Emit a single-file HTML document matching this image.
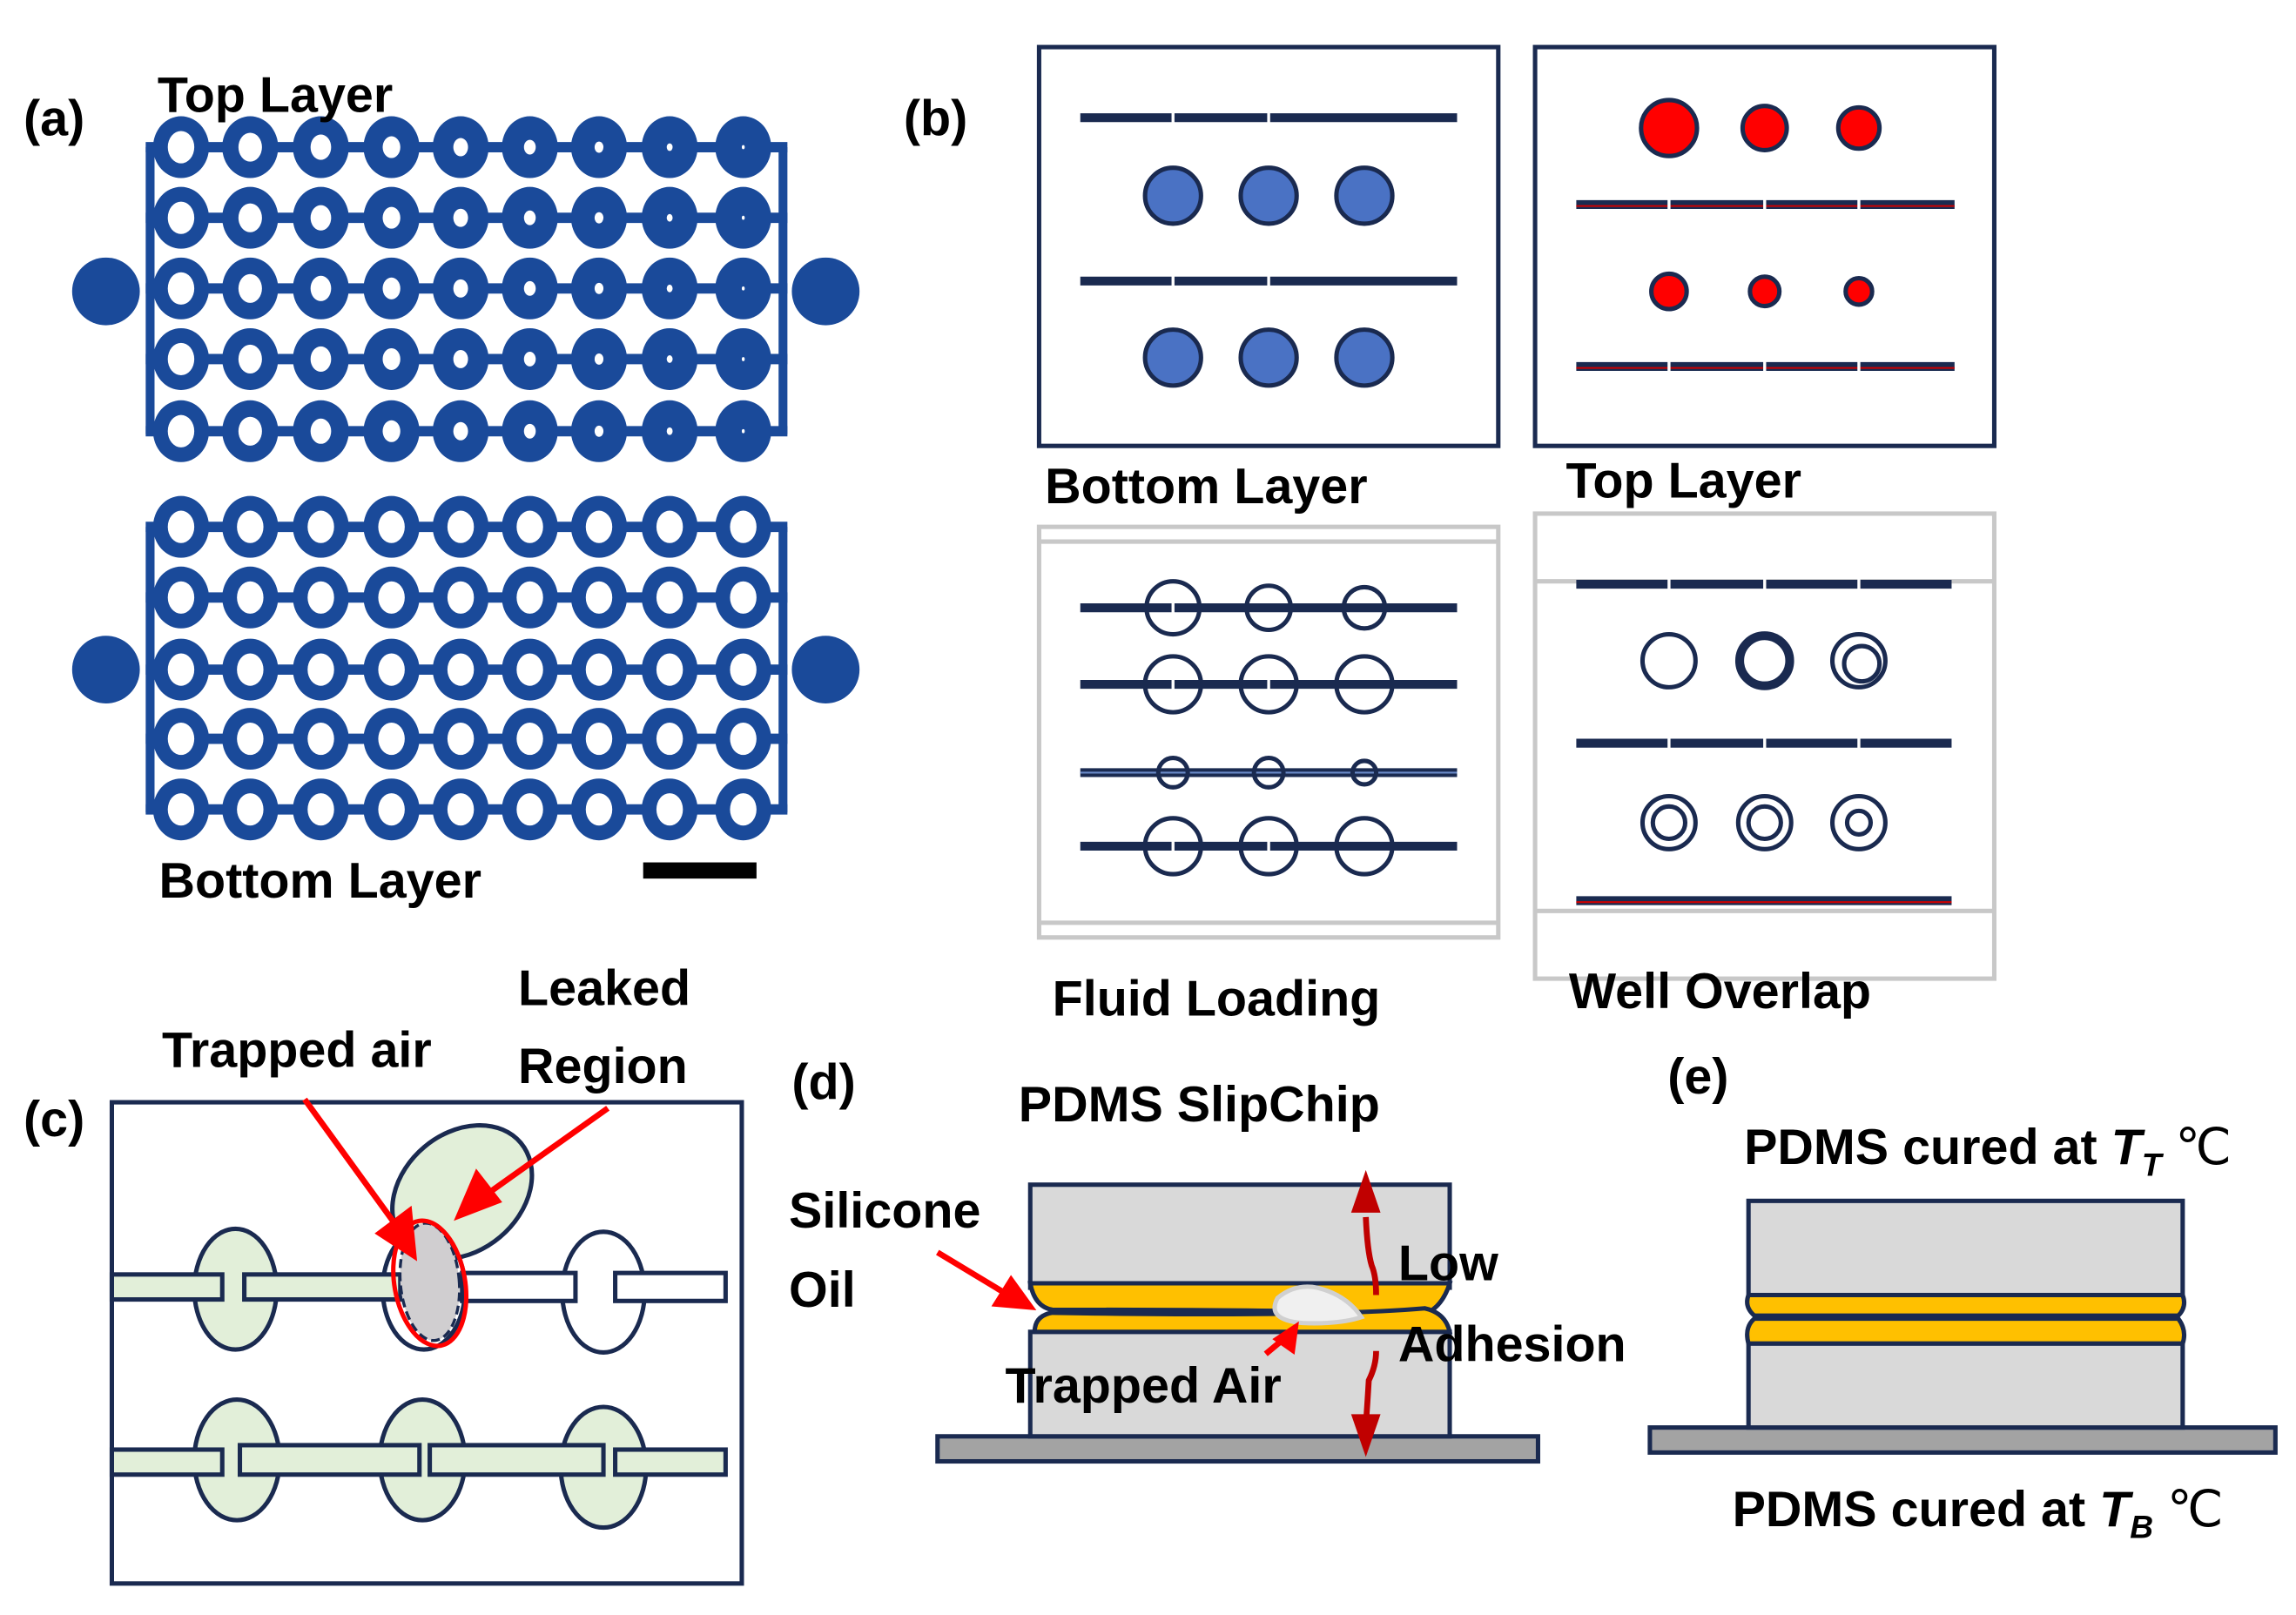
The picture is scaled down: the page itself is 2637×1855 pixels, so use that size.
<!DOCTYPE html>
<html><head><meta charset="utf-8"><style>
html,body{margin:0;padding:0;background:#fff}
svg{display:block}
text{font-family:"Liberation Sans",sans-serif;font-weight:bold;fill:#000}
</style></head><body>
<svg id="s" width="2637" height="1855" viewBox="0 0 1560 1097.4" preserveAspectRatio="none" xmlns="http://www.w3.org/2000/svg">
<rect width="1560" height="1098" fill="#fff"/>
<g id="ga"></g>
<text x="16" y="92" font-size="34">(a)</text>
<text x="107" y="76" font-size="34">Top Layer</text>
<text x="108" y="610" font-size="34">Bottom Layer</text>
<rect x="437" y="586" width="77" height="11" fill="#000"/>

<!-- (b) -->
<text x="614" y="92" font-size="34">(b)</text>
<g stroke="#1a2a50" fill="none" stroke-width="3">
<rect x="706" y="32" width="312" height="271"/>
<rect x="1043" y="32" width="312" height="271"/>
</g>
<g stroke="#1a2a50" stroke-width="6">
<line x1="734" y1="80" x2="990" y2="80"/><line x1="734" y1="191" x2="990" y2="191"/>
<line x1="1071" y1="139" x2="1328" y2="139"/><line x1="1071" y1="249" x2="1328" y2="249"/>
</g>
<g stroke="#c00" stroke-width="1.2"><line x1="1071" y1="140" x2="1328" y2="140"/><line x1="1071" y1="250" x2="1328" y2="250"/></g>
<g stroke="#fff" stroke-width="2"><line x1="797" y1="76" x2="797" y2="84"/><line x1="862" y1="76" x2="862" y2="84"/><line x1="797" y1="187" x2="797" y2="195"/><line x1="862" y1="187" x2="862" y2="195"/>
<line x1="1134" y1="135" x2="1134" y2="143"/><line x1="1199" y1="135" x2="1199" y2="143"/><line x1="1263" y1="135" x2="1263" y2="143"/><line x1="1134" y1="245" x2="1134" y2="253"/><line x1="1199" y1="245" x2="1199" y2="253"/><line x1="1263" y1="245" x2="1263" y2="253"/></g>
<g fill="#4a72c4" stroke="#1a2a50" stroke-width="3">
<circle cx="797" cy="133" r="19"/><circle cx="862" cy="133" r="19"/><circle cx="927" cy="133" r="19"/>
<circle cx="797" cy="243" r="19"/><circle cx="862" cy="243" r="19"/><circle cx="927" cy="243" r="19"/>
</g>
<g fill="#f00" stroke="#1a2a50" stroke-width="3">
<circle cx="1134" cy="87" r="19"/><circle cx="1199" cy="87" r="15"/><circle cx="1263" cy="87" r="14"/>
<circle cx="1134" cy="198" r="12"/><circle cx="1199" cy="198" r="10"/><circle cx="1263" cy="198" r="9"/>
</g>
<text x="710" y="342" font-size="34">Bottom Layer</text>
<text x="1064" y="338" font-size="34">Top Layer</text>
<g stroke="#c8c8c8" fill="none" stroke-width="3">
<rect x="706" y="358" width="312" height="279"/><line x1="706" y1="368" x2="1018" y2="368"/><line x1="706" y1="627" x2="1018" y2="627"/>
<rect x="1043" y="349" width="312" height="316"/><line x1="1043" y1="395" x2="1355" y2="395"/><line x1="1043" y1="619" x2="1355" y2="619"/>
</g>
<g stroke="#1a2a50" stroke-width="6">
<line x1="734" y1="413" x2="990" y2="413"/><line x1="734" y1="465" x2="990" y2="465"/><line x1="734" y1="525" x2="990" y2="525"/><line x1="734" y1="575" x2="990" y2="575"/>
<line x1="1071" y1="397" x2="1326" y2="397"/><line x1="1071" y1="505" x2="1326" y2="505"/><line x1="1071" y1="612" x2="1326" y2="612"/>
</g>
<g stroke="#c00" stroke-width="1.2"><line x1="1071" y1="613" x2="1326" y2="613"/></g>
<g stroke="#6a8ac8" stroke-width="1.2"><line x1="734" y1="525" x2="990" y2="525"/></g>
<g fill="none" stroke="#1a2a50" stroke-width="3">
<circle cx="797" cy="413" r="18"/><circle cx="862" cy="413" r="15"/><circle cx="927" cy="413" r="14"/>
<circle cx="797" cy="465" r="19"/><circle cx="862" cy="465" r="19"/><circle cx="927" cy="465" r="19"/>
<circle cx="797" cy="525" r="10"/><circle cx="862" cy="525" r="10"/><circle cx="927" cy="525" r="8"/>
<circle cx="797" cy="575" r="19"/><circle cx="862" cy="575" r="19"/><circle cx="927" cy="575" r="19"/>
<circle cx="1134" cy="449" r="18"/><circle cx="1199" cy="449" r="17" stroke-width="6"/><circle cx="1263" cy="449" r="18"/><circle cx="1265" cy="451" r="12"/>
<circle cx="1134" cy="559" r="18"/><circle cx="1134" cy="559" r="11"/><circle cx="1199" cy="559" r="18"/><circle cx="1199" cy="559" r="11"/><circle cx="1263" cy="559" r="18"/><circle cx="1263" cy="559" r="8"/>
</g>
<g stroke="#fff" stroke-width="2"><line x1="797" y1="408" x2="797" y2="418"/><line x1="797" y1="460" x2="797" y2="470"/><line x1="862" y1="460" x2="862" y2="470"/><line x1="797" y1="570" x2="797" y2="580"/><line x1="862" y1="570" x2="862" y2="580"/><line x1="1134" y1="500" x2="1134" y2="510"/><line x1="1199" y1="500" x2="1199" y2="510"/><line x1="1263" y1="500" x2="1263" y2="510"/><line x1="1134" y1="392" x2="1134" y2="402"/><line x1="1199" y1="392" x2="1199" y2="402"/><line x1="1263" y1="392" x2="1263" y2="402"/></g>
<text x="715" y="690" font-size="34">Fluid Loading</text>
<text x="1066" y="685" font-size="34">Well Overlap</text>

<!-- (c) -->
<text x="16" y="772" font-size="34">(c)</text>
<text x="110" y="725" font-size="34">Trapped air</text>
<text x="352" y="683" font-size="34">Leaked</text>
<text x="352" y="736" font-size="34">Region</text>
<rect x="76" y="749" width="428" height="327" fill="none" stroke="#1a2a50" stroke-width="3"/>
<g fill="#e2efd9" stroke="#1a2a50" stroke-width="3">
<ellipse cx="314" cy="810" rx="52" ry="40" transform="rotate(-40 314 810)"/>
<ellipse cx="160" cy="876" rx="28" ry="41"/>
<ellipse cx="161" cy="992" rx="29" ry="41"/><ellipse cx="287" cy="992" rx="29" ry="41"/><ellipse cx="410" cy="997" rx="29" ry="41"/>
</g>
<g fill="none" stroke="#1a2a50" stroke-width="3">
<ellipse cx="288" cy="876" rx="28" ry="41"/><ellipse cx="410" cy="878" rx="28" ry="41"/>
</g>
<g fill="#e2efd9" stroke="#1a2a50" stroke-width="3">
<rect x="76" y="866" width="75" height="17"/><rect x="166" y="866" width="106" height="17"/>
<rect x="76" y="985" width="75" height="17"/><rect x="163" y="982" width="122" height="20"/><rect x="292" y="982" width="118" height="20"/><rect x="418" y="985" width="75" height="17"/>
</g>
<g fill="#fff" stroke="#1a2a50" stroke-width="3">
<rect x="314" y="865" width="77" height="19"/><rect x="418" y="865" width="75" height="19"/>
</g>
<ellipse cx="292" cy="871" rx="20" ry="40" transform="rotate(-5 292 871)" fill="#d0ced0" stroke="#1a2a50" stroke-width="2" stroke-dasharray="6 3"/>
<ellipse cx="292" cy="872" rx="24" ry="43" transform="rotate(-10 292 872)" fill="none" stroke="#f00" stroke-width="3"/>
<g stroke="#f00" stroke-width="4" fill="#f00">
<line x1="207" y1="747" x2="273" y2="838"/><polygon points="281,853 258,838 278,823"/>
<line x1="413" y1="753" x2="330" y2="812"/><polygon points="312,826 324,798 338,816"/>
</g>

<!-- (d) -->
<text x="538" y="747" font-size="34">(d)</text>
<text x="692" y="762" font-size="34">PDMS SlipChip</text>
<text x="536" y="834" font-size="34">Silicone</text>
<text x="536" y="888" font-size="34">Oil</text>
<rect x="637" y="976" width="408" height="17" fill="#a3a3a3" stroke="#1a2a50" stroke-width="3"/>
<rect x="700" y="805" width="285" height="70" fill="#d9d9d9" stroke="#1a2a50" stroke-width="3"/>
<rect x="700" y="905" width="285" height="71" fill="#d9d9d9" stroke="#1a2a50" stroke-width="3"/>
<path d="M700,872 L985,872 Q980,888 968,893 Q900,890 715,890 Q703,888 700,872 Z" fill="#ffc000" stroke="#1a2a50" stroke-width="3"/>
<path d="M703,905 L985,905 Q982,892 968,889 Q900,895 715,892 Q703,894 703,905 Z" fill="#ffc000" stroke="#1a2a50" stroke-width="3"/>
<path d="M868,882 Q880,872 895,875 Q915,880 925,895 Q910,900 885,899 Q860,897 868,882 Z" fill="#f0f0f0" stroke="#d0d0d0" stroke-width="3"/>
<g fill="none" stroke="#c00000" stroke-width="4"><path d="M928,827 Q929,850 932,860 Q935,867 935,880"/><path d="M935,918 Q935,928 930,938 Q929,955 928,968"/></g>
<g fill="#c00000"><polygon points="928,795 918,824 938,824"/><polygon points="928,990 918,961 938,961"/></g>
<g stroke="#f00" stroke-width="4" fill="#f00"><line x1="637" y1="851" x2="685" y2="880"/><polygon points="700,888 677,886 687,870"/>
<line x1="860" y1="920" x2="872" y2="910"/><polygon points="880,902 868,910 878,917"/></g>
<text x="950" y="870" font-size="34">Low</text>
<text x="950" y="925" font-size="34">Adhesion</text>
<text x="683" y="953" font-size="34">Trapped Air</text>

<!-- (e) -->
<text x="1133" y="743" font-size="34">(e)</text>
<text x="1185" y="791" font-size="34">PDMS cured at <tspan font-style="italic">T</tspan><tspan font-style="italic" font-size="22" dy="8">T</tspan><tspan dy="-8" font-weight="normal"> ℃</tspan></text>
<rect x="1121" y="970" width="425" height="17" fill="#a3a3a3" stroke="#1a2a50" stroke-width="3"/>
<rect x="1188" y="816" width="295" height="64" fill="#d9d9d9" stroke="#1a2a50" stroke-width="3"/>
<path d="M1188,880 L1483,880 Q1486,888 1480,894 L1192,894 Q1185,888 1188,880Z" fill="#ffc000" stroke="#1a2a50" stroke-width="3"/>
<path d="M1192,896 L1480,896 Q1486,904 1483,913 L1188,913 Q1185,902 1192,896Z" fill="#ffc000" stroke="#1a2a50" stroke-width="3"/>
<rect x="1188" y="913" width="295" height="57" fill="#d9d9d9" stroke="#1a2a50" stroke-width="3"/>
<text x="1177" y="1037" font-size="34">PDMS cured at <tspan font-style="italic">T</tspan><tspan font-style="italic" font-size="22" dy="8">B</tspan><tspan dy="-8" font-weight="normal"> ℃</tspan></text>
</svg>
<script>
(function(){
var NS="http://www.w3.org/2000/svg",g=document.getElementById("ga"),C="#1a4a9a";
function el(t,a){var e=document.createElementNS(NS,t);for(var k in a)e.setAttribute(k,a[k]);g.appendChild(e);return e;}
var xs=[123,170,218,266,313,360,407,455,505];
function grid(rows,shrink,by){
 el("line",{x1:102,y1:rows[0],x2:102,y2:rows[4]+2,stroke:C,"stroke-width":6});
 el("line",{x1:532,y1:rows[0],x2:532,y2:rows[4]+2,stroke:C,"stroke-width":6});
 rows.forEach(function(y){
  el("line",{x1:99,y1:y,x2:535,y2:y,stroke:C,"stroke-width":7});
  xs.forEach(function(x,i){
   el("ellipse",{cx:x,cy:y,rx:19,ry:21,fill:C});
   var r=shrink?Math.max(1,9-i*1.0):9;
   var ry=shrink?Math.max(1.2,11-i*1.2):11;
   el("ellipse",{cx:x,cy:y,rx:r,ry:ry,fill:"#fff"});
  });
 });
 el("circle",{cx:72,cy:by,r:23,fill:C});
 el("circle",{cx:561,cy:by,r:23,fill:C});
}
grid([100,148,196,244,293],true,198);
grid([358,406,455,502,550],false,455);
})();
</script>
</body></html>
